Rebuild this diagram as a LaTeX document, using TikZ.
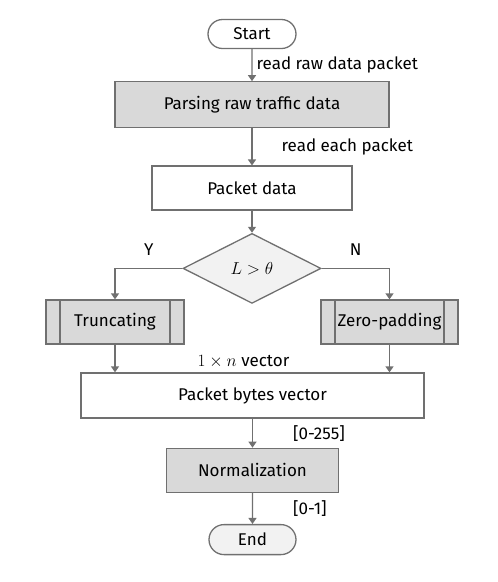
\documentclass[tikz,border=0pt]{standalone}
\usepackage{fontspec}
\setmainfont{Fira Sans}
\usepackage{xcolor}
\usetikzlibrary{positioning,arrows.meta,shapes}

\definecolor{edgegray}{HTML}{707070}
\definecolor{boxgray}{HTML}{D9D9D9}
\definecolor{lightgray}{HTML}{F2F2F2}

\begin{document}
\begin{tikzpicture}[
    x=1pt, y=-1pt,
    font=\fontsize{17}{19}\selectfont,
    node distance=32pt,
    base/.style={draw=edgegray, line width=1.3pt, align=center, inner sep=0pt},
    terminal/.style={base, rounded rectangle, minimum width=88pt, minimum height=29pt},
    box/.style={base, rectangle, minimum width=200pt, minimum height=44pt},
    decision/.style={base, diamond, fill=lightgray, minimum width=138pt, minimum height=70pt},
    subproc/.style={box, fill=boxgray, minimum width=138pt,
        path picture={
            \draw[edgegray, line width=1.3pt]
                ([xshift=14pt]path picture bounding box.north west) --
                ([xshift=14pt]path picture bounding box.south west)
                ([xshift=-14pt]path picture bounding box.north east) --
                ([xshift=-14pt]path picture bounding box.south east);
        }},
    arrow/.style={-{Triangle[length=6pt, width=8pt]}, draw=edgegray, line width=1.3pt},
    elabel/.style={inner sep=0pt, anchor=west}
]
\useasboundingbox (0,0) rectangle (498,582);

\node[terminal] (start) at (252,34) {Start};
\node[box, fill=boxgray, minimum width=274pt, minimum height=46pt, below=32pt of start] (parse) {Parsing raw traffic data};
\node[box, below=37pt of parse] (pdata) {Packet data};
\node[decision, below=22pt of pdata] (decide) {$L>\theta$};

\node[subproc] (trunc) at (115,322) {Truncating};
\node[subproc, minimum width=137pt] (zpad) at (389.5,322) {Zero-padding};

\node[box, minimum width=343pt, minimum height=45pt] (vec) at (252.5,395.5) {Packet bytes vector};
\node[box, fill=boxgray, minimum width=172pt, below=29pt of vec] (norm) {Normalization};
\node[terminal, fill=lightgray, minimum width=87pt, minimum height=30pt, below=31pt of norm] (end) {End};

% main line
\draw[arrow] (start) -- node[elabel, xshift=4pt] {read raw data packet} (parse);
\draw[arrow] (parse) -- node[elabel, xshift=29pt] {read each packet} (pdata);
\draw[arrow] (pdata) -- (decide);

% branches
\draw[arrow] (decide.west) -| node[pos=0.25, above=9pt] {Y} (trunc.north);
\draw[arrow] (decide.east) -| node[pos=0.25, above=9pt] {N} (zpad.north);
\draw[arrow] (trunc.south) -- (trunc.south |- vec.north);
\draw[arrow] (zpad.south) -- (zpad.south |- vec.north);
\node[above=4pt of vec.north, xshift=-9pt, inner sep=0pt] (veclabel) {$1\times n$ vector};

\draw[arrow] (vec) -- node[elabel, xshift=40pt] {[0-255]} (norm);
\draw[arrow] (norm) -- node[elabel, xshift=40pt] {[0-1]} (end);
\end{tikzpicture}
\end{document}
